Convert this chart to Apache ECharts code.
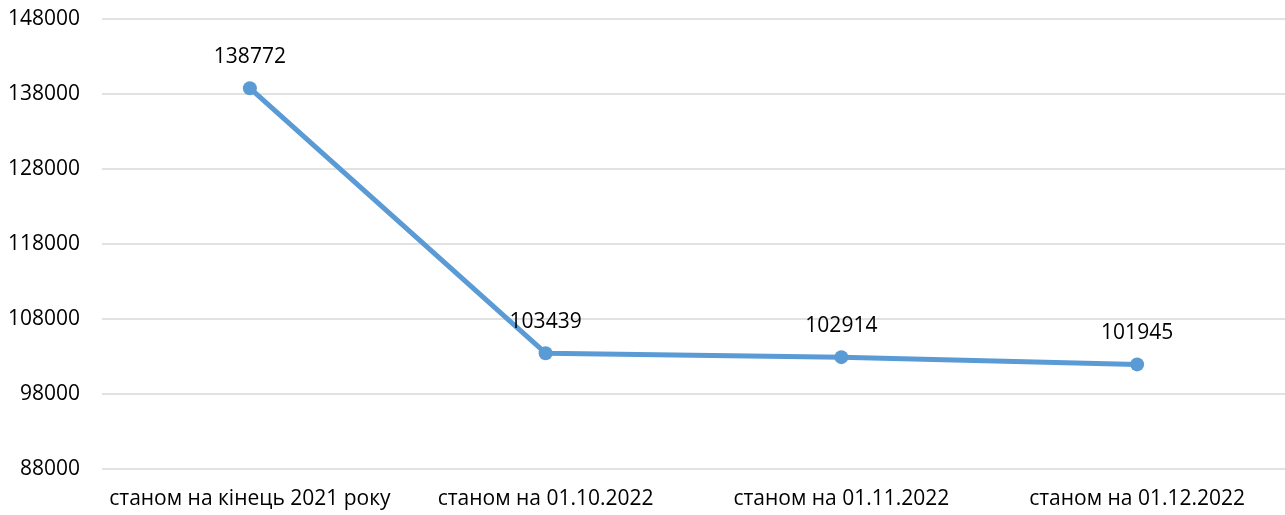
<!DOCTYPE html>
<html>
<head>
<meta charset="utf-8">
<script src="https://cdn.jsdelivr.net/npm/echarts@6/dist/echarts.min.js"></script>
<style>
  html, body { margin: 0; padding: 0; background: #fff; }
  #chart { width: 1285px; height: 515px; }
</style>
</head>
<body>
<div id="chart"></div>
<script>
// categories and values
const categories = ['станом на кінець 2021 року', 'станом на 01.10.2022', 'станом на 01.11.2022', 'станом на 01.12.2022']
const values = [138772, 103439, 102914, 101945]
const yMin = 88000
const yMax = 148000
const yStep = 10000

const chart = echarts.init(document.getElementById('chart'))
chart.setOption({
  animation: false,
  textStyle: { fontFamily: 'Open Sans' },
  grid: { left: 102, right: 0, top: 19, bottom: 46 },
  xAxis: {
    type: 'category',
    data: categories,
    boundaryGap: true,
    axisLine: { show: false },
    axisTick: { show: false },
    axisLabel: { color: '#000', fontSize: 21, margin: 20, interval: 0 }
  },
  yAxis: {
    type: 'value',
    min: yMin,
    max: yMax,
    interval: yStep,
    axisLine: { show: false },
    axisTick: { show: false },
    axisLabel: { color: '#000', fontSize: 21, margin: 22, formatter: v => String(v) },
    splitLine: { lineStyle: { color: '#d9d9d9', width: 1.5 } }
  },
  series: [{
    type: 'line',
    data: values,
    symbol: 'circle',
    symbolSize: 14,
    lineStyle: { color: '#5b9bd5', width: 5 },
    itemStyle: { color: '#5b9bd5' },
    label: {
      show: true,
      position: 'top',
      distance: 14,
      color: '#000',
      fontSize: 21
    }
  }]
})
</script>
</body>
</html>
